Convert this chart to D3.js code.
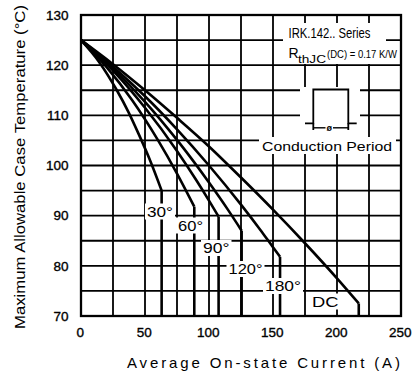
<!DOCTYPE html>
<html>
<head>
<meta charset="utf-8">
<script src="https://cdn.jsdelivr.net/npm/d3@7"></script>
<style>
  html, body { margin: 0; padding: 0; background: #fff; }
  svg { display: block; }
  text { font-family: "Liberation Sans", Arial, sans-serif; fill: #000; }
</style>
</head>
<body>
<svg id="chart" width="414" height="372"></svg>
<script>
// Axis tick labels
const currentTicks = [0, 50, 100, 150, 200, 250];
const tempTicks = [70, 80, 90, 100, 110, 120, 130];

// Derating curves: [average on-state current (A), max case temperature (°C)]
const curve30  = [[0,125],[14,120.7],[28,115],[37,110.7],[45,106.3],[54,101],[63,95]];
const curve60  = [[0,125],[20,119.6],[40,113],[60,105.1],[75,98.4],[88.5,91.8]];
const curve90  = [[0,125],[25,118.9],[50,111.5],[75,102.9],[90,97.1],[100,93],[107.5,89.8]];
const curve120 = [[0,125],[25,119.3],[50,112.7],[75,105.1],[100,96.6],[115,91.1],[125.5,87]];
const curve180 = [[0,125],[25,119.7],[50,113.8],[75,107.2],[100,100],[125,92.2],[140,87.2],[150,83.7],[155.5,81.8]];
const curveDC  = [[0,125],[25,120.2],[50,115],[75,109.5],[100,103.8],[125,97.6],[150,91.2],[175,84.5],[200,77.5],[217,72.5]];

const curveNames = ["30°", "60°", "90°", "120°", "180°", "DC"];
const curves = [curve30, curve60, curve90, curve120, curve180, curveDC];

// Label placement (left x, baseline y, text width) for each curve name
const labelLayout = [
  [147, 216.5, 26], [178, 230.5, 25], [203, 253, 26.5],
  [228.5, 274, 34], [265, 291, 36], [312, 306.5, 26.5]
];

const svg = d3.select("#chart");
const x = d3.scaleLinear().domain([0, 250]).range([81, 401]);
const y = d3.scaleLinear().domain([70, 130]).range([316, 15]);

// Grid
const grid = svg.append("g").attr("stroke", "#000").attr("stroke-width", 1.8);
grid.selectAll("line.v").data(d3.range(25, 250, 25)).join("line")
  .attr("class", "v")
  .attr("x1", d => x(d)).attr("x2", d => x(d))
  .attr("y1", y(70)).attr("y2", y(130));
grid.selectAll("line.h").data(d3.range(75, 130, 5)).join("line")
  .attr("class", "h")
  .attr("x1", x(0)).attr("x2", x(250))
  .attr("y1", d => y(d)).attr("y2", d => y(d));

// Curves
const line = d3.line().x(d => x(d[0])).y(d => y(d[1])).curve(d3.curveMonotoneX);
const cg = svg.append("g").attr("fill", "none").attr("stroke", "#000")
  .attr("stroke-width", 2.6).attr("stroke-linejoin", "round");
curves.forEach(c => {
  cg.append("path").attr("d", line(c));
  const end = c[c.length - 1];
  cg.append("line")
    .attr("x1", x(end[0])).attr("x2", x(end[0]))
    .attr("y1", y(end[1])).attr("y2", y(70));
});

// Curve labels on white patches
const lg = svg.append("g");
curveNames.forEach((name, i) => {
  const [lx, ly, lw] = labelLayout[i];
  const g = lg.append("g");
  const t = g.append("text")
    .attr("x", lx).attr("y", ly)
    .attr("font-size", 15)
    .attr("textLength", lw).attr("lengthAdjust", "spacingAndGlyphs")
    .text(name);
  const b = t.node().getBBox();
  g.insert("rect", "text")
    .attr("x", b.x - 2).attr("y", b.y + 1)
    .attr("width", b.width + 4).attr("height", b.height - 1)
    .attr("fill", "#fff");
});

// Annotation block (top right)
const ann = svg.append("g");
ann.append("rect").attr("x", 283).attr("y", 23).attr("width", 103).attr("height", 20).attr("fill", "#fff");
ann.append("rect").attr("x", 283).attr("y", 43).attr("width", 116).attr("height", 21).attr("fill", "#fff");
ann.append("rect").attr("x", 300).attr("y", 87).attr("width", 60).attr("height", 50).attr("fill", "#fff");
ann.append("rect").attr("x", 259).attr("y", 137).attr("width", 137).attr("height", 17).attr("fill", "#fff");

ann.append("text").attr("x", 288.5).attr("y", 38.3).attr("font-size", 14)
  .attr("textLength", 82).attr("lengthAdjust", "spacingAndGlyphs")
  .text("IRK.142.. Series");
ann.append("text").attr("x", 288.5).attr("y", 57.5).attr("font-size", 14).text("R");
ann.append("text").attr("x", 298).attr("y", 62.5).attr("font-size", 11.5)
  .attr("textLength", 28).attr("lengthAdjust", "spacingAndGlyphs")
  .text("thJC");
ann.append("text").attr("x", 327).attr("y", 57.5).attr("font-size", 11.5)
  .attr("textLength", 70).attr("lengthAdjust", "spacingAndGlyphs")
  .text("(DC) = 0.17 K/W");

// Conduction pulse sketch
const pg = ann.append("g").attr("fill", "none").attr("stroke", "#000").attr("stroke-width", 1.8);
pg.append("path").attr("d", "M305,123.3H313.3V89.5H348.3V123.3H356.7");
pg.append("line").attr("x1", 313.3).attr("x2", 313.3).attr("y1", 123.3).attr("y2", 130);
pg.append("line").attr("x1", 348.3).attr("x2", 348.3).attr("y1", 123.3).attr("y2", 130);
pg.append("line").attr("x1", 313.3).attr("x2", 325.5).attr("y1", 127.8).attr("y2", 127.8).attr("stroke-width", 1.4);
pg.append("line").attr("x1", 333).attr("x2", 348.3).attr("y1", 127.8).attr("y2", 127.8).attr("stroke-width", 1.4);
ann.append("text").attr("x", 329.2).attr("y", 131).attr("font-size", 9)
  .attr("text-anchor", "middle").attr("font-weight", "bold").text("ø");

ann.append("text").attr("x", 262).attr("y", 151).attr("font-size", 13)
  .attr("textLength", 130).attr("lengthAdjust", "spacingAndGlyphs")
  .text("Conduction Period");

// Axes (labels only, gridlines drawn above)
const yAxis = svg.append("g").attr("transform", `translate(${x(0)},0)`)
  .call(d3.axisLeft(y).tickValues(tempTicks).tickSize(0).tickPadding(12.5));
const xAxis = svg.append("g").attr("transform", `translate(0,${y(70)})`)
  .call(d3.axisBottom(x).tickValues(currentTicks).tickSize(0).tickPadding(11));
[yAxis, xAxis].forEach(a => {
  a.select(".domain").remove();
  a.selectAll("text").attr("font-size", 13.5)
    .attr("font-family", "Liberation Sans, Arial, sans-serif")
    .attr("fill", "#000").attr("stroke", "#000").attr("stroke-width", 0.35);
});
xAxis.selectAll("text").attr("dx", "-0.1em");

// Frame
svg.append("rect")
  .attr("x", x(0)).attr("y", y(130))
  .attr("width", x(250) - x(0)).attr("height", y(70) - y(130))
  .attr("fill", "none").attr("stroke", "#000").attr("stroke-width", 2.3);

// Axis titles
svg.append("text")
  .attr("transform", "translate(25,167) rotate(-90)")
  .attr("text-anchor", "middle").attr("font-size", 14.5)
  .attr("textLength", 324).attr("lengthAdjust", "spacingAndGlyphs")
  .text("Maximum Allowable Case Temperature (°C)");
svg.append("text")
  .attr("x", 263.5).attr("y", 368)
  .attr("text-anchor", "middle").attr("font-size", 15)
  .attr("textLength", 273).attr("lengthAdjust", "spacing")
  .text("Average On-state Current (A)");
</script>
</body>
</html>
